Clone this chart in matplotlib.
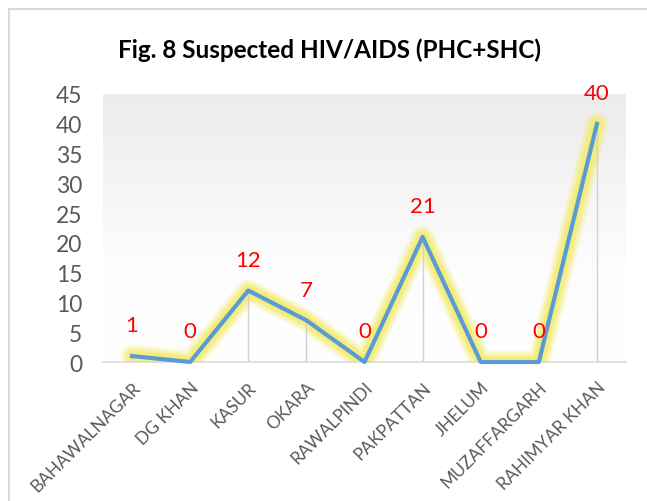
import matplotlib
matplotlib.use("Agg")
import matplotlib.pyplot as plt
import numpy as np
from matplotlib.patches import Rectangle
from matplotlib.colors import LinearSegmentedColormap

categories = ["BAHAWALNAGAR", "DG KHAN", "KASUR", "OKARA", "RAWALPINDI",
              "PAKPATTAN", "JHELUM", "MUZAFFARGARH", "RAHIMYAR KHAN"]
values = [1, 0, 12, 7, 0, 21, 0, 0, 40]
yticks = [0, 5, 10, 15, 20, 25, 30, 35, 40, 45]
title = "Fig. 8 Suspected HIV/AIDS (PHC+SHC)"

plt.rcParams['font.family'] = ['Lato', 'DejaVu Sans']

W, H = 647, 502
fig = plt.figure(figsize=(W / 100, H / 100), dpi=100)
ax = fig.add_axes([103 / W, 1 - 363 / H, 523 / W, 268 / H])

x = np.arange(len(categories))
n = len(categories)

# gradient background
grad = np.linspace(0, 1, 256).reshape(-1, 1)
cmap = LinearSegmentedColormap.from_list("g", [(0, "#ffffff"), (0.35, "#fdfdfd"), (1.0, "#ececec")])
ax.imshow(grad, aspect="auto", cmap=cmap, extent=[-0.5, n - 0.5, 45, 0],
          origin="upper", zorder=0, interpolation="bilinear")
ax.set_xlim(-0.5, n - 0.5)
ax.set_ylim(0, 45)

# glow
for lw, a in [(17, 0.15), (14.5, 0.22), (12, 0.32), (9.5, 0.45), (7, 0.55)]:
    ax.plot(x, values, color="#f4ec6c", lw=lw, alpha=a, solid_joinstyle="round",
            solid_capstyle="round", zorder=1)

# drop lines
ax.vlines(x, 0, values, color="#d0d0d0", lw=1.0, zorder=2)

ax.plot(x, values, color="#5b9bd5", lw=3.0, solid_joinstyle="round", zorder=3, clip_on=False)

for xi, v in zip(x, values):
    ax.annotate(str(v), (xi, v), xytext=(0, 22), textcoords="offset points",
                ha="center", va="center", color="#ff0000", fontsize=16, zorder=4)

ax.set_yticks(yticks)
ax.set_yticklabels([str(t) for t in yticks], fontsize=16.5, color="#595959")
ax.set_xticks(x)
ax.set_xticklabels(categories, rotation=45, ha="right", rotation_mode="anchor",
                   fontsize=12.5, color="#595959")
ax.tick_params(axis="y", length=0, pad=15)
ax.tick_params(axis="x", length=0, pad=12)

for s in ["left", "right", "top"]:
    ax.spines[s].set_visible(False)
ax.spines["bottom"].set_color("#d9d9d9")
ax.spines["bottom"].set_linewidth(1.2)
ax.spines["bottom"].set_zorder(2.5)

fig.text(330 / W, 1 - 50 / H, title, ha="center", va="center", fontsize=17.5,
         fontweight="bold", color="#000000")

fig.patches.append(Rectangle((9 / W, -0.5), 2, (1 - 10 / H) + 0.5, transform=fig.transFigure,
                             fill=False, edgecolor="#d9d9d9", lw=1.5))

fig.savefig("out.png", dpi=100)
